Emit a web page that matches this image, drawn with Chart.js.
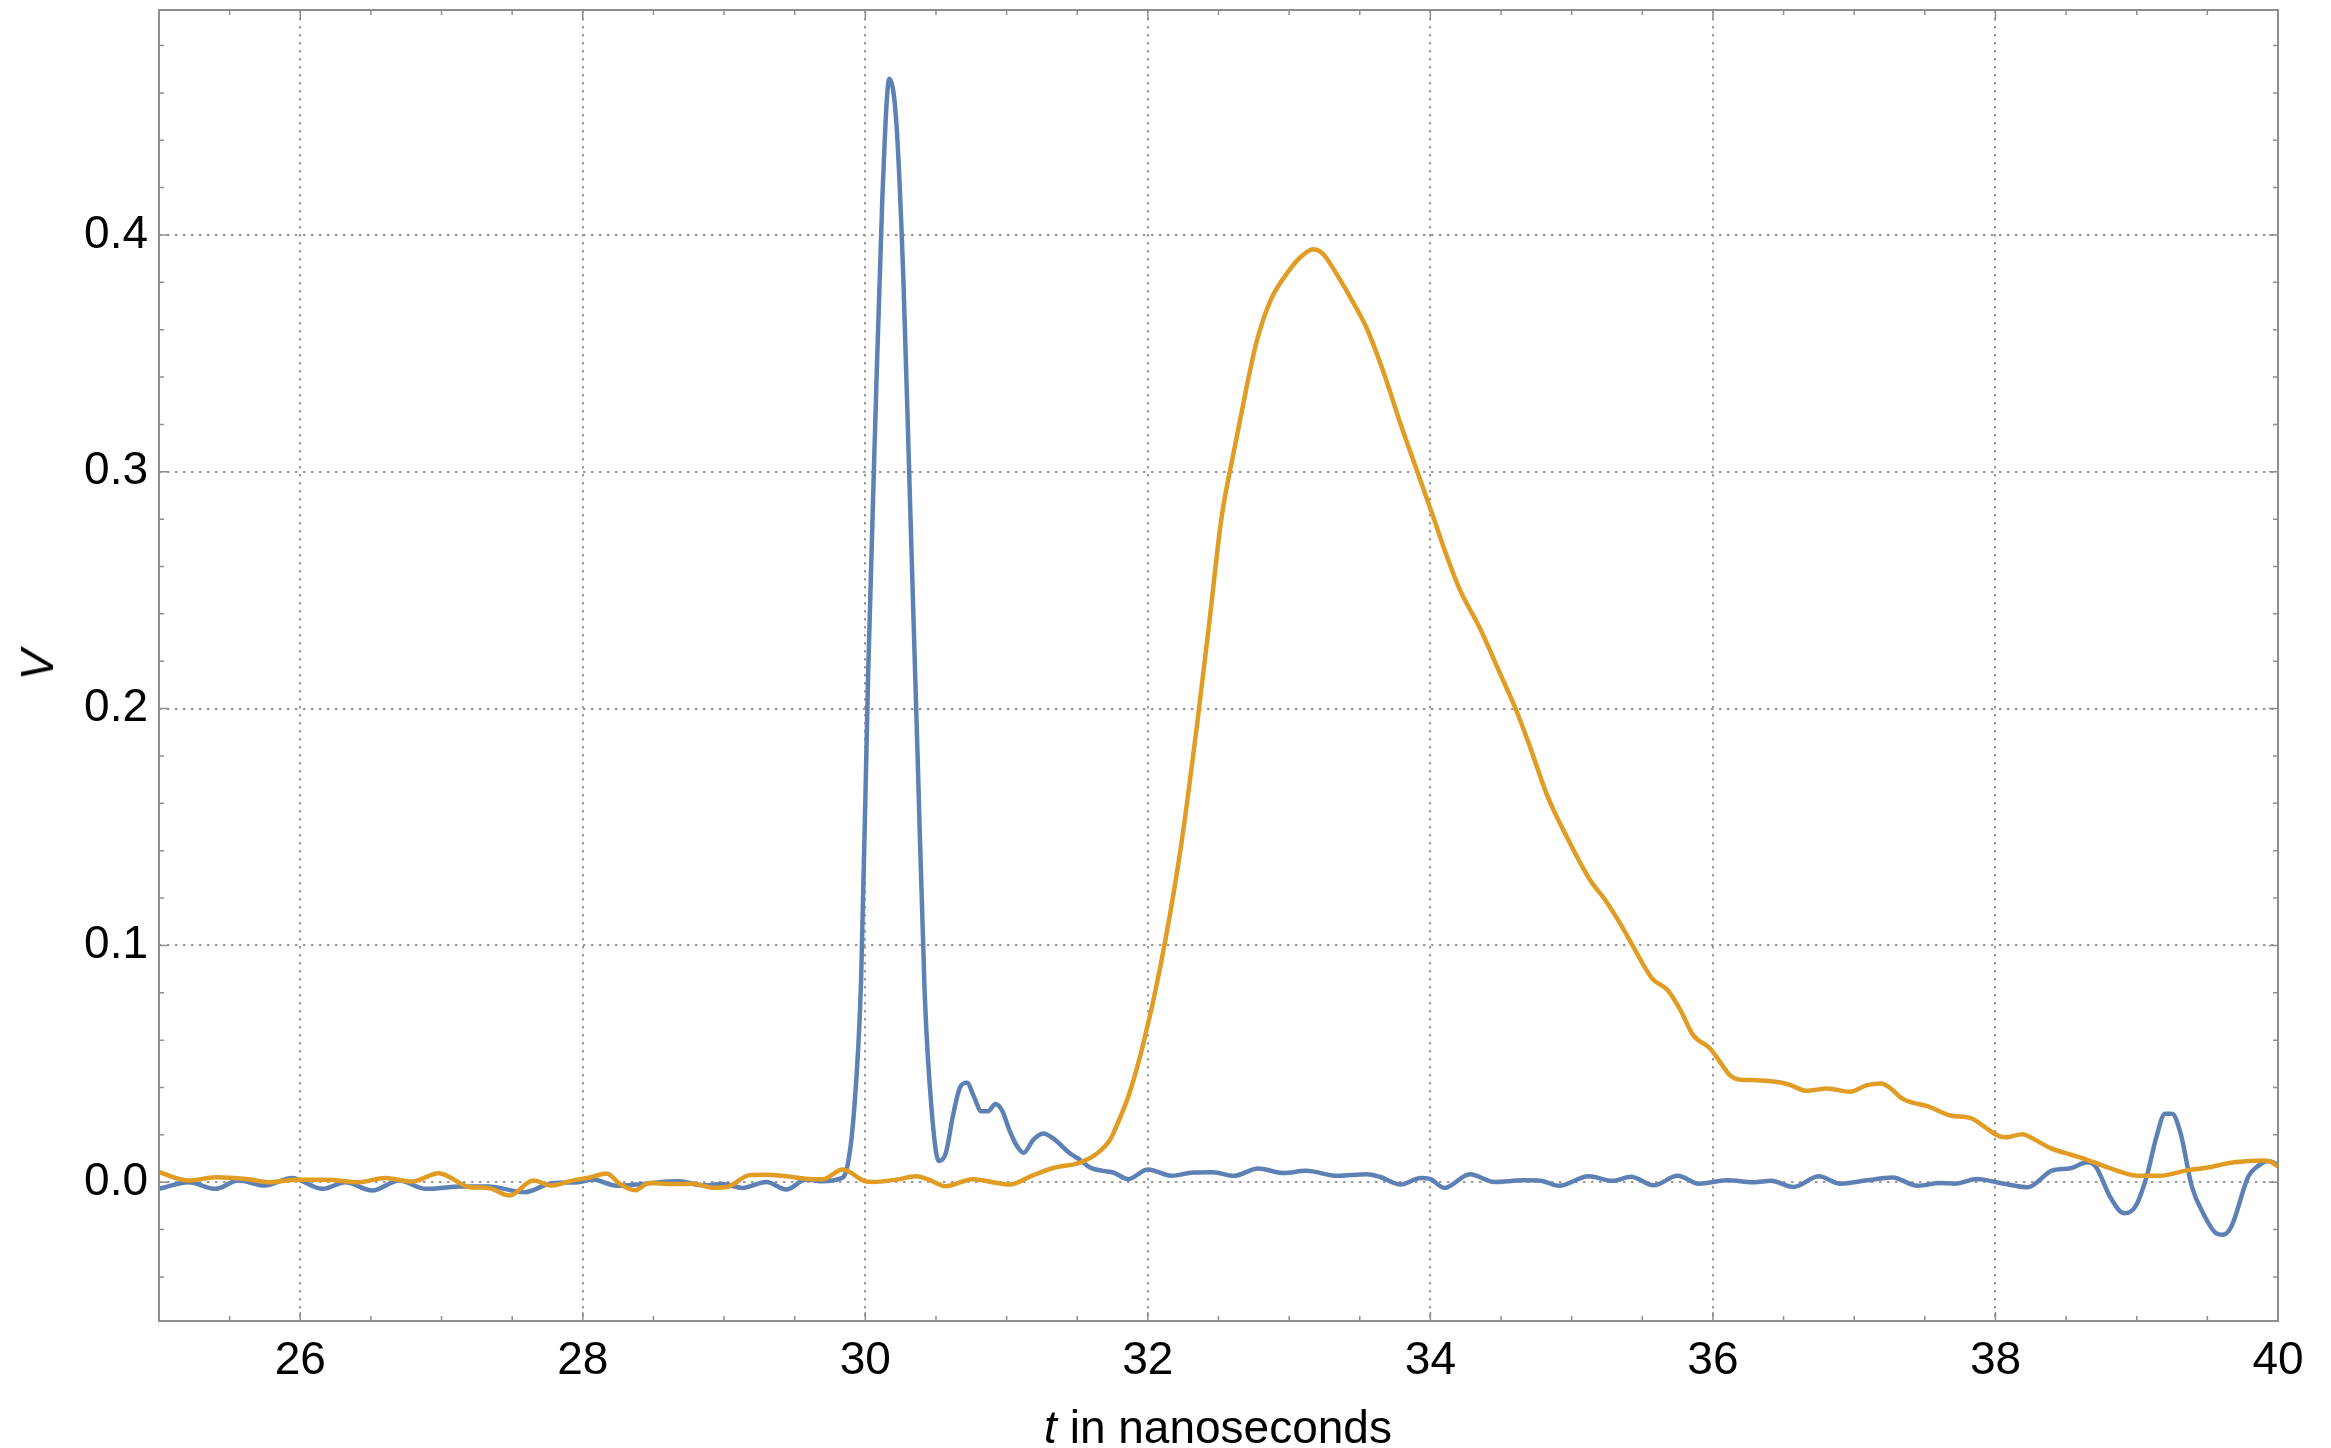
<!DOCTYPE html>
<html>
<head>
<meta charset="utf-8">
<title>Pulse traces</title>
<script src="https://cdn.jsdelivr.net/npm/chart.js@4/dist/chart.umd.min.js"></script>
<style>
  html, body { margin: 0; padding: 0; background: #fff; }
  #wrap { position: relative; width: 2331px; height: 1448px; overflow: hidden; }
  #chart { position: absolute; left: 0; top: 0; }
  .axis-title { position: absolute; font-family: 'Liberation Sans', Arial, sans-serif; font-size: 46px; color: #000; white-space: nowrap; line-height: 1; }
  #xTitle { left: 1218px; top: 1427px; transform: translate(-50%, -50%); }
  #yTitle { left: 37px; top: 665px; transform: translate(-50%, -50%) rotate(-90deg); font-style: italic; }
</style>
</head>
<body>
<div id="wrap">
  <canvas id="chart" width="2331" height="1448"></canvas>
  <div class="axis-title" id="xTitle"><i>t</i> in nanoseconds</div>
  <div class="axis-title" id="yTitle">V</div>
</div>
<script>
// tick labels
const xTickValues = [26, 28, 30, 32, 34, 36, 38, 40];
const yTickValues = [0.0, 0.1, 0.2, 0.3, 0.4];

// blue trace (t in ns, V)
const tBlue = [
  25.00, 25.21, 25.40, 25.56, 25.75, 25.94, 26.16, 26.32, 26.51, 26.70,
  26.89, 27.14, 27.33, 27.59, 27.78, 27.97, 28.07, 28.24, 28.38, 28.54,
  28.68, 28.85, 28.99, 29.13, 29.30, 29.44, 29.58, 29.70, 29.82, 29.87,
  29.92, 29.97, 30.02, 30.07, 30.12, 30.17, 30.22, 30.27, 30.32, 30.37,
  30.42, 30.47, 30.52, 30.57, 30.62, 30.67, 30.72, 30.77, 30.82, 30.87,
  30.92, 30.97, 31.02, 31.07, 31.12, 31.19, 31.26, 31.33, 31.45, 31.52,
  31.59, 31.68, 31.76, 31.86, 32.00, 32.17, 32.32, 32.46, 32.61, 32.78,
  32.96, 33.12, 33.34, 33.55, 33.64, 33.79, 33.93, 34.00, 34.10, 34.28,
  34.45, 34.66, 34.78, 34.91, 35.12, 35.29, 35.42, 35.58, 35.75, 35.90,
  36.10, 36.29, 36.41, 36.57, 36.75, 36.90, 37.09, 37.27, 37.45, 37.61,
  37.71, 37.87, 38.04, 38.23, 38.40, 38.53, 38.65, 38.71, 38.81, 38.91,
  38.99, 39.07, 39.14, 39.20, 39.25, 39.31, 39.39, 39.47, 39.56, 39.61,
  39.67, 39.79, 39.86, 39.93, 39.98, 40.04
];
const vBlue = [
  -0.0028, 0.0000, -0.0028, 0.0007, -0.0014, 0.0018, -0.0028, 0.0000, -0.0035, 0.0007,
  -0.0028, -0.0018, -0.0018, -0.0042, -0.0004, 0.0000, 0.0011, -0.0015, -0.0010, 0.0000,
  0.0004, -0.0013, -0.0008, -0.0024, 0.0001, -0.0031, 0.0011, 0.0004, 0.0015, 0.0060,
  0.030, 0.085, 0.215, 0.320, 0.415, 0.466, 0.447, 0.380, 0.280, 0.180,
  0.080, 0.030, 0.009, 0.0124, 0.028, 0.040, 0.042, 0.036, 0.030, 0.030,
  0.033, 0.030, 0.022, 0.0156, 0.0124, 0.018, 0.0206, 0.0185, 0.0121, 0.0095,
  0.0062, 0.0048, 0.0040, 0.0013, 0.0054, 0.0027, 0.0041, 0.0042, 0.0027, 0.0058,
  0.0039, 0.0048, 0.0027, 0.0034, 0.0023, -0.0010, 0.0018, 0.0013, -0.0024, 0.0034,
  0.0001, 0.0008, 0.0006, -0.0015, 0.0025, 0.0006, 0.0023, -0.0013, 0.0027, -0.0006,
  0.0008, 0.0000, 0.0006, -0.0020, 0.0025, -0.0006, 0.0008, 0.0020, -0.0015, -0.0003,
  -0.0006, 0.0014, -0.0004, -0.0021, 0.0049, 0.0059, 0.0084, 0.0066, -0.0060, -0.0131,
  -0.0103, 0.0024, 0.0193, 0.0289, 0.0289, 0.0207, -0.0018, -0.0131, -0.0215, -0.0222,
  -0.0187, 0.0024, 0.0069, 0.0090, 0.0080, 0.0050
];

// orange trace (t in ns, V)
const tOrange = [
  25.00, 25.21, 25.40, 25.62, 25.78, 25.97, 26.19, 26.41, 26.60, 26.79,
  26.98, 27.20, 27.33, 27.48, 27.65, 27.78, 27.93, 28.05, 28.17, 28.26,
  28.37, 28.47, 28.64, 28.78, 28.92, 29.02, 29.18, 29.30, 29.44, 29.63,
  29.70, 29.84, 29.99, 30.05, 30.22, 30.36, 30.46, 30.57, 30.76, 30.91,
  31.02, 31.19, 31.33, 31.52, 31.64, 31.73, 31.78, 31.87, 31.97, 32.09,
  32.23, 32.35, 32.44, 32.52, 32.61, 32.70, 32.77, 32.87, 32.98, 33.08,
  33.17, 33.24, 33.31, 33.43, 33.55, 33.67, 33.79, 33.90, 34.02, 34.12,
  34.21, 34.35, 34.50, 34.61, 34.71, 34.83, 34.97, 35.13, 35.23, 35.35,
  35.43, 35.57, 35.68, 35.77, 35.86, 35.98, 36.05, 36.12, 36.18, 36.31,
  36.48, 36.55, 36.66, 36.81, 36.97, 37.09, 37.19, 37.25, 37.34, 37.42,
  37.52, 37.68, 37.83, 37.92, 38.02, 38.08, 38.19, 38.26, 38.39, 38.54,
  38.64, 38.76, 38.88, 39.00, 39.16, 39.35, 39.50, 39.69, 39.90, 39.95,
  40.04
];
const vOrange = [
  0.0042, 0.0007, 0.0021, 0.0014, 0.0000, 0.0010, 0.0010, 0.0000, 0.0018, 0.0003,
  0.0038, -0.0021, -0.0024, -0.0056, 0.0007, -0.0014, 0.0008, 0.0020, 0.0037, -0.0006,
  -0.0034, -0.0003, -0.0008, -0.0006, -0.0023, -0.0020, 0.0030, 0.0032, 0.0025, 0.0013,
  0.0013, 0.0054, 0.0006, 0.0001, 0.0011, 0.0025, 0.0008, -0.0017, 0.0013, -0.0001,
  -0.0010, 0.0030, 0.0060, 0.0083, 0.0121, 0.0177, 0.0240, 0.0377, 0.0590, 0.0915,
  0.140, 0.194, 0.239, 0.280, 0.309, 0.336, 0.355, 0.3726, 0.3834, 0.3906,
  0.394, 0.392, 0.386, 0.374, 0.3605, 0.3417, 0.320, 0.3013, 0.281, 0.2637,
  0.250, 0.234, 0.2139, 0.199, 0.183, 0.1628, 0.1453, 0.1276, 0.1198, 0.1086,
  0.1001, 0.086, 0.0811, 0.0727, 0.0621, 0.0565, 0.0508, 0.0452, 0.0434, 0.0431,
  0.0421, 0.0410, 0.0386, 0.0396, 0.0382, 0.0410, 0.0417, 0.0400, 0.0353, 0.0335,
  0.0321, 0.0282, 0.0270, 0.0235, 0.0196, 0.0190, 0.0203, 0.0186, 0.0144, 0.0115,
  0.0097, 0.0070, 0.0045, 0.0027, 0.0027, 0.0049, 0.0062, 0.0084, 0.0092, 0.0086,
  0.0049
];

const FONT = "'Liberation Sans', Arial, sans-serif";
const frameColor = '#8e8e8e';
const gridColor = '#9a9a9a';

// Mathematica-style frame with inward ticks on all four sides
const frameTicks = {
  id: 'frameTicks',
  afterDraw(chart) {
    const { ctx, chartArea: a, scales: { x, y } } = chart;
    ctx.save();
    ctx.strokeStyle = frameColor;
    ctx.lineWidth = 1.5;
    ctx.beginPath();
    for (let k = 51; k < 80; k++) {          // every 0.5 ns
      const px = x.getPixelForValue(k / 2);
      const len = k % 4 === 0 ? 9 : 5;
      ctx.moveTo(px, a.bottom); ctx.lineTo(px, a.bottom - len);
      ctx.moveTo(px, a.top);    ctx.lineTo(px, a.top + len);
    }
    for (let k = -2; k <= 24; k++) {         // every 0.02 V
      const py = y.getPixelForValue(k / 50);
      const len = k % 5 === 0 ? 9 : 5;
      ctx.moveTo(a.left, py);  ctx.lineTo(a.left + len, py);
      ctx.moveTo(a.right, py); ctx.lineTo(a.right - len, py);
    }
    ctx.stroke();
    ctx.lineWidth = 2;
    ctx.strokeRect(a.left, a.top, a.right - a.left, a.bottom - a.top);
    ctx.restore();
  }
};

const toPoints = (ts, vs) => ts.map((t, i) => ({ x: t, y: vs[i] }));

new Chart(document.getElementById('chart'), {
  type: 'line',
  data: {
    datasets: [
      {
        label: 'blue',
        data: toPoints(tBlue, vBlue),
        borderColor: '#5E81B5', borderWidth: 4.5,
        pointRadius: 0, fill: false, cubicInterpolationMode: 'monotone', order: 1
      },
      {
        label: 'orange',
        data: toPoints(tOrange, vOrange),
        borderColor: '#E19C24', borderWidth: 4.5,
        pointRadius: 0, fill: false, cubicInterpolationMode: 'monotone', order: 0
      }
    ]
  },
  options: {
    responsive: false,
    animation: false,
    devicePixelRatio: 1,
    layout: { padding: { top: 10, right: 53, left: 0, bottom: 0 } },
    plugins: { legend: { display: false }, tooltip: { enabled: false } },
    scales: {
      x: {
        type: 'linear', min: 25, max: 40,
        afterBuildTicks: s => { s.ticks = xTickValues.map(v => ({ value: v })); },
        afterFit: s => { s.height = 127; s.paddingLeft = 0; s.paddingRight = 0; },
        grid: { color: gridColor, lineWidth: 2, drawTicks: false },
        border: { display: false, dash: [2.5, 5.5] },
        ticks: { padding: 13, maxRotation: 0, color: '#000', font: { family: FONT, size: 46 }, callback: v => String(v) }
      },
      y: {
        type: 'linear', min: -0.0586, max: 0.495,
        afterBuildTicks: s => { s.ticks = yTickValues.map(v => ({ value: v })); },
        afterFit: s => { s.width = 159; s.paddingTop = 0; s.paddingBottom = 0; },
        grid: { color: gridColor, lineWidth: 2, drawTicks: false },
        border: { display: false, dash: [2.5, 5.5] },
        ticks: { padding: 11, color: '#000', font: { family: FONT, size: 46 }, callback: v => v.toFixed(1) }
      }
    }
  },
  plugins: [frameTicks]
});
</script>
</body>
</html>
